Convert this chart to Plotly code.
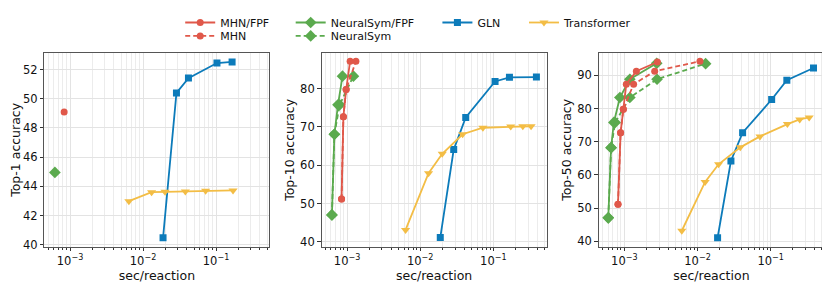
import plotly.graph_objects as go

# ---------------- data ----------------
# Panel 1: Top-1 accuracy
p1_mhn_fpf_x = [8.3e-4]
p1_mhn_fpf_y = [49.1]
p1_ns_fpf_x = [6.2e-4]
p1_ns_fpf_y = [44.95]
p1_gln_x = [0.0188, 0.0287, 0.0419, 0.103, 0.166]
p1_gln_y = [40.47, 50.4, 51.42, 52.45, 52.53]
p1_tr_x = [0.0064, 0.0131, 0.020, 0.038, 0.072, 0.171]
p1_tr_y = [42.98, 43.6, 43.62, 43.65, 43.69, 43.72]

# Panel 2: Top-10 accuracy
p2_mhn_fpf_x = [8.4e-4, 8.9e-4, 9.7e-4, 1.1e-3]
p2_mhn_fpf_y = [51.2, 72.7, 79.8, 87.2]
p2_mhn_x = [8.4e-4, 8.9e-4, 9.7e-4, 1.32e-3]
p2_mhn_y = [51.2, 72.7, 79.8, 87.2]
p2_ns_fpf_x = [6.2e-4, 6.7e-4, 7.5e-4, 8.65e-4]
p2_ns_fpf_y = [47.0, 68.1, 75.8, 83.3]
p2_ns_x = [6.2e-4, 6.7e-4, 7.9e-4, 1.22e-3]
p2_ns_y = [47.0, 68.1, 75.8, 83.3]
p2_gln_x = [0.0188, 0.0287, 0.0419, 0.1055, 0.166, 0.388]
p2_gln_y = [41.1, 64.1, 72.5, 81.9, 83.0, 83.05]
p2_tr_x = [0.0063, 0.013, 0.020, 0.038, 0.072, 0.173, 0.253, 0.328]
p2_tr_y = [43.1, 57.9, 63.0, 68.1, 69.8, 70.1, 70.2, 70.2]

# Panel 3: Top-50 accuracy
p3_mhn_fpf_x = [8.2e-4, 8.9e-4, 9.7e-4, 1.065e-3, 1.46e-3, 2.83e-3]
p3_mhn_fpf_y = [51.2, 72.7, 79.8, 87.3, 91.2, 94.0]
p3_mhn_x = [8.2e-4, 8.9e-4, 9.7e-4, 1.34e-3, 2.6e-3, 1.08e-2]
p3_mhn_y = [51.2, 72.7, 79.8, 87.3, 91.2, 94.2]
p3_ns_fpf_x = [6.04e-4, 6.6e-4, 7.2e-4, 8.7e-4, 1.19e-3, 2.77e-3]
p3_ns_fpf_y = [47.1, 68.2, 75.8, 83.3, 88.8, 93.6]
p3_ns_x = [6.04e-4, 6.6e-4, 7.5e-4, 1.19e-3, 2.8e-3, 1.29e-2]
p3_ns_y = [47.1, 68.2, 75.8, 83.3, 88.8, 93.5]
p3_gln_x = [0.0188, 0.0286, 0.0413, 0.103, 0.166, 0.384]
p3_gln_y = [41.1, 64.2, 72.7, 82.7, 88.5, 92.2]
p3_tr_x = [0.0061, 0.0127, 0.0194, 0.0384, 0.0713, 0.169, 0.249, 0.335]
p3_tr_y = [43.2, 57.9, 63.2, 68.3, 71.6, 75.3, 76.7, 77.3]

y_titles = ["Top-1 accuracy", "Top-10 accuracy", "Top-50 accuracy"]
x_title = "sec/reaction"
x_tickvals = [1e-3, 1e-2, 1e-1]
x_ticktext = ["10<sup>−3</sup>", "10<sup>−2</sup>", "10<sup>−1</sup>"]

# ---------------- style ----------------
RED = "#E0584A"
GREEN = "#5BAA4E"
BLUE = "#0C7BBA"
YELLOW = "#F3BD45"
FONT = "DejaVu Sans"

fig = go.Figure()


def add(ax, x, y, name, color, symbol, size, dash="solid", legend="legend", show=False):
    fig.add_trace(go.Scatter(
        x=x, y=y, mode="lines+markers", name=name,
        line=dict(color=color, width=1.8, dash=dash),
        marker=dict(symbol=symbol, size=size, color=color),
        xaxis="x" + ax, yaxis="y" + ax,
        legend=legend, showlegend=show, legendgroup=name,
    ))


DASH = "5px,3px"
# panel 1
add("", p1_gln_x, p1_gln_y, "GLN", BLUE, "square", 7)
add("", p1_tr_x, p1_tr_y, "Transformer", YELLOW, "triangle-down", 8)
add("", p1_ns_fpf_x, p1_ns_fpf_y, "NeuralSym/FPF", GREEN, "diamond", 9)
add("", p1_mhn_fpf_x, p1_mhn_fpf_y, "MHN/FPF", RED, "circle", 7)
# panel 2
add("2", p2_gln_x, p2_gln_y, "GLN", BLUE, "square", 7)
add("2", p2_tr_x, p2_tr_y, "Transformer", YELLOW, "triangle-down", 8)
add("2", p2_ns_x, p2_ns_y, "NeuralSym", GREEN, "diamond", 9, DASH)
add("2", p2_ns_fpf_x, p2_ns_fpf_y, "NeuralSym/FPF", GREEN, "diamond", 9)
add("2", p2_mhn_x, p2_mhn_y, "MHN", RED, "circle", 7, DASH)
add("2", p2_mhn_fpf_x, p2_mhn_fpf_y, "MHN/FPF", RED, "circle", 7)
# panel 3 (carries legend entries)
add("3", p3_gln_x, p3_gln_y, "GLN", BLUE, "square", 7, legend="legend3", show=True)
add("3", p3_tr_x, p3_tr_y, "Transformer", YELLOW, "triangle-down", 8, legend="legend4", show=True)
add("3", p3_ns_x, p3_ns_y, "NeuralSym", GREEN, "diamond", 9, DASH, legend="legend6", show=True)
add("3", p3_ns_fpf_x, p3_ns_fpf_y, "NeuralSym/FPF", GREEN, "diamond", 9, legend="legend2", show=True)
add("3", p3_mhn_x, p3_mhn_y, "MHN", RED, "circle", 7, DASH, legend="legend5", show=True)
add("3", p3_mhn_fpf_x, p3_mhn_fpf_y, "MHN/FPF", RED, "circle", 7, legend="legend", show=True)

minor_vals = [m * 10.0 ** e for e in range(-4, 1) for m in range(2, 10)]


def xax(domain, anchor):
    return dict(
        domain=domain, anchor=anchor, type="log", range=[-3.35, -0.27],
        tickvals=x_tickvals, ticktext=x_ticktext,
        showgrid=True, gridcolor="#e3e3e3", gridwidth=1,
        minor=dict(tickvals=minor_vals, showgrid=True, gridcolor="#ececec",
                   ticks="outside", ticklen=2, tickcolor="#333"),
        ticks="outside", ticklen=3.5, tickcolor="#333",
        showline=True, linecolor="#555", linewidth=1, mirror=True,
        zeroline=False, automargin=False,
        tickfont=dict(family=FONT, size=11.5, color="#111"),
        title=dict(text=x_title, standoff=3, font=dict(family=FONT, size=12.5, color="#111")),
    )


def yax(domain, anchor, rng, dtick, title):
    return dict(
        domain=domain, anchor=anchor, range=rng, dtick=dtick,
        showgrid=True, gridcolor="#e3e3e3", gridwidth=1,
        ticks="outside", ticklen=3.5, tickcolor="#333",
        showline=True, linecolor="#555", linewidth=1, mirror=True,
        zeroline=False, automargin=False,
        tickfont=dict(family=FONT, size=11.5, color="#111"),
        title=dict(text=title, standoff=2, font=dict(family=FONT, size=12.5, color="#111")),
    )


YD = [0.1475, 0.8393]
fig.update_layout(
    width=822, height=280,
    margin=dict(l=0, r=0, t=0, b=0),
    paper_bgcolor="white", plot_bgcolor="white",
    font=dict(family=FONT, size=11, color="#111"),
    xaxis=xax([0.0444, 0.3179], "y"),
    yaxis=yax(YD, "x", [39.86, 53.14], 2, y_titles[0]),
    xaxis2=xax([0.3814, 0.6554], "y2"),
    yaxis2=yax(YD, "x2", [38.7, 89.35], 10, y_titles[1]),
    xaxis3=xax([0.7186, 0.9929], "y3"),
    yaxis3=yax(YD, "x3", [38.4, 96.7], 10, y_titles[2]),
)

leg_common = dict(yanchor="top", xanchor="left", orientation="v",
                  bgcolor="rgba(0,0,0,0)", font=dict(family=FONT, size=11, color="#111"))
ROW1, ROW2 = 1.0, 0.952
fig.update_layout(
    legend=dict(x=0.2095, y=ROW1, **leg_common),
    legend2=dict(x=0.3439, y=ROW1, **leg_common),
    legend3=dict(x=0.5224, y=ROW1, **leg_common),
    legend4=dict(x=0.6277, y=ROW1, **leg_common),
    legend5=dict(x=0.2095, y=ROW2, **leg_common),
    legend6=dict(x=0.3439, y=ROW2, **leg_common),
)

fig.write_html("out.html")
